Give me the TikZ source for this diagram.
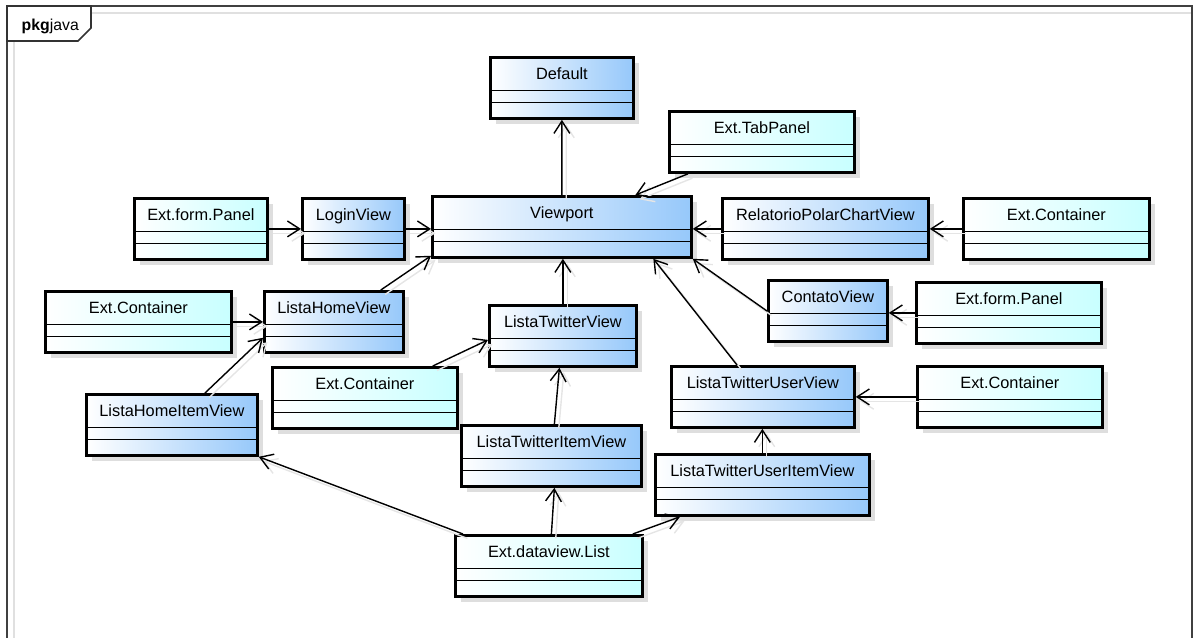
\documentclass[tikz,border=0pt]{standalone}
\usepackage{fontspec}
\setmainfont{Liberation Sans}
\usetikzlibrary{positioning,shadows,arrows.meta}
\definecolor{viewblue}{RGB}{150,200,250}
\definecolor{extcyan}{RGB}{200,255,255}
\tikzset{every picture/.style={line width=0.8pt}}
\tikzset{
  cls/.style={draw, rectangle, line width=1.6pt, anchor=north west, minimum height=1.22cm,
    inner xsep=0pt, inner ysep=0pt, text height=0.44cm, text depth=0.78cm,
    font=\fontsize{9.3}{11}\selectfont,
    general shadow={fill=black!13, shadow xshift=0.12cm, shadow yshift=-0.12cm},
    path picture={
      \draw[line width=0.7pt] ([yshift=-0.66cm]path picture bounding box.north west) -- ([yshift=-0.66cm]path picture bounding box.north east);
      \draw[line width=0.7pt] ([yshift=-0.9cm]path picture bounding box.north west) -- ([yshift=-0.9cm]path picture bounding box.north east);
    }},
  view/.style={cls, left color=white, right color=viewblue},
  ext/.style={cls, left color=white, right color=extcyan},
  dep/.style={-{Straight Barb[length=7pt,width=9pt]}, line width=0.8pt,
    preaction={draw=black!10, transform canvas={xshift=2.5pt,yshift=-2.5pt}}}
}

\begin{document}
\begin{tikzpicture}[x=0.02cm, y=-0.02cm]
    \useasboundingbox (0,0) rectangle (1194,637);

    % Package frame
    \draw[black!12, line width=1pt] (14,650) -- (14,13) -- (1192,13);
    \draw[black!75, line width=0.9pt] (7,650) -- (7,6) -- (1192,6) -- (1192,650);
    \draw[black!80, line width=0.9pt, fill=white] (7,6) -- (91,6) -- (91,28) -- (78,41) -- (7,41) -- cycle;
    \node[font=\fontsize{9}{11}\selectfont, anchor=base west, inner sep=0pt] (pkg) at (21,30) {\textbf{pkg}java};

    % Classes
    \node[view, minimum width=2.86cm] (default) at (489,56) {Default};
    \node[ext, minimum width=3.70cm] (tabpanel) at (668,110) {Ext.TabPanel};
    \node[view, minimum width=5.18cm] (viewport) at (431,195) {Viewport};
    \node[view, minimum width=2.04cm] (login) at (301,197) {LoginView};
    \node[ext, minimum width=2.66cm] (formL) at (133,197) {Ext.form.Panel};
    \node[view, minimum width=4.12cm] (relatorio) at (721,197) {RelatorioPolarChartView};
    \node[ext, minimum width=3.72cm] (contR) at (962,197) {Ext.Container};
    \node[view, minimum width=2.38cm] (contato) at (767,279) {ContatoView};
    \node[ext, minimum width=3.70cm] (formR) at (915,281) {Ext.form.Panel};
    \node[ext, minimum width=3.72cm] (contL) at (44,290) {Ext.Container};
    \node[view, minimum width=2.78cm] (homeview) at (263,290) {ListaHomeView};
    \node[view, minimum width=2.94cm] (twitview) at (488,304) {ListaTwitterView};
    \node[ext, minimum width=3.70cm] (contM) at (271,366) {Ext.Container};
    \node[view, minimum width=3.66cm] (userview) at (670,365) {ListaTwitterUserView};
    \node[ext, minimum width=3.70cm] (contLR) at (916,365) {Ext.Container};
    \node[view, minimum width=3.42cm] (homeitem) at (85,393) {ListaHomeItemView};
    \node[view, minimum width=3.60cm] (twititem) at (460,424) {ListaTwitterItemView};
    \node[view, minimum width=4.28cm] (useritem) at (654,453) {ListaTwitterUserItemView};
    \node[ext, minimum width=3.74cm] (list) at (454,534) {Ext.dataview.List};

    % Dependencies
    \draw[dep] (viewport.north) -- (default.south);
    \draw[dep] ([xshift=0.4cm]tabpanel.south west) -- ([xshift=1.47cm]viewport.north);
    \draw[dep] (formL.east) -- (formL.east -| login.west);
    \draw[dep] (login.east) -- (login.east -| viewport.west);
    \draw[dep] (relatorio.west) -- (relatorio.west -| viewport.east);
    \draw[dep] (contR.west) -- (contR.west -| relatorio.east);
    \draw[dep] ([yshift=-0.64cm]contato.north west) -- (viewport.south east);
    \draw[dep] (formR.west) -- (formR.west -| contato.east);
    \draw[dep] (contLR.west) -- (contLR.west -| userview.east);
    \draw[dep] ([xshift=1.34cm]userview.north west) -- ([xshift=1.83cm]viewport.south);
    \draw[dep] (useritem.north) -- (useritem.north |- userview.south);
    \draw[dep] (twitview.north) -- (twitview.north |- viewport.south);
    \draw[dep] ([xshift=-0.48cm]homeview.north east) -- ([yshift=0.06cm]viewport.south west);
    \draw[dep] (contL.east) -- (contL.east -| homeview.west);
    \draw[dep] ([xshift=2.4cm]homeitem.north west) -- ([yshift=0.32cm]homeview.south west);
    \draw[dep] ([xshift=-0.52cm]contM.north east) -- ([yshift=-0.08cm]twitview.west);
    \draw[dep] ([xshift=0.06cm]twititem.north) -- ([xshift=-0.07cm]twitview.south);
    \draw[dep] ([xshift=0.05cm]list.north) -- ([xshift=0.06cm]twititem.south);
    \draw[dep] ([xshift=-0.22cm]list.north east) -- ([xshift=0.52cm]useritem.south west);
    \draw[dep] ([xshift=0.18cm]list.north west) -- (homeitem.south east);
\end{tikzpicture}
\end{document}
